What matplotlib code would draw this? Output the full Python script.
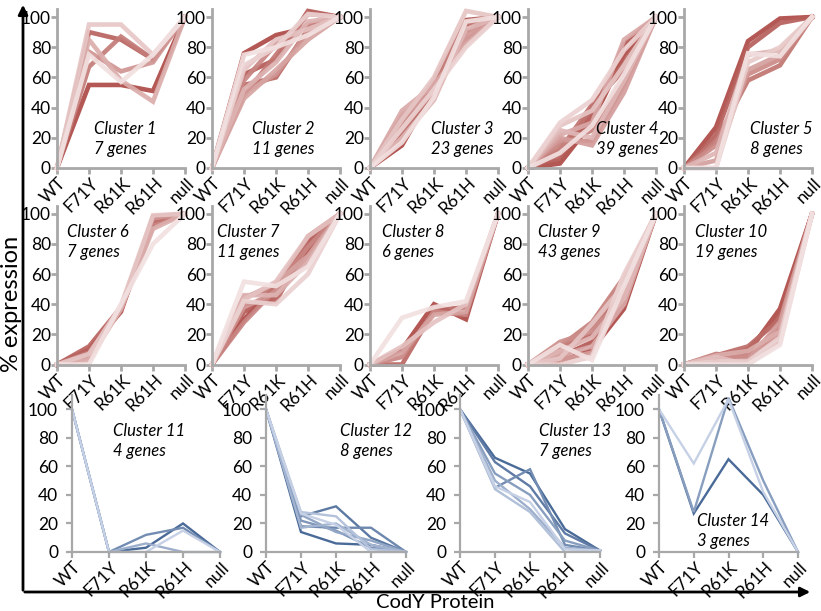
import matplotlib
matplotlib.use("Agg")
import matplotlib.pyplot as plt
import numpy as np
from matplotlib.colors import to_rgb
from matplotlib.transforms import offset_copy

plt.rcParams['font.family'] = ['Lato', 'DejaVu Sans']

conditions = ["WT", "F71Y", "R61K", "R61H", "null"]

# each cluster: list of gene profiles ordered dark -> light
c1 = [[0, 55, 55, 51, 100], [0, 90, 85, 72, 100], [0, 67, 87, 72, 100], [0, 77, 64, 70, 100],
      [0, 85, 58, 44, 100], [0, 95, 95, 75, 100], [0, 75, 57, 75, 100]]
c2 = [[0, 76, 88, 93, 100], [0, 62, 72, 104, 100], [0, 55, 60, 92, 100], [0, 48, 75, 102, 100],
      [0, 58, 82, 95, 100], [0, 50, 62, 90, 100], [0, 46, 65, 85, 100], [0, 52, 70, 97, 100],
      [0, 65, 85, 92, 100], [0, 68, 80, 102, 100], [0, 75, 80, 88, 100]]
c3 = [[0, 15, 52, 95, 100], [0, 18, 50, 98, 100], [0, 22, 55, 96, 100], [0, 25, 48, 90, 100],
      [0, 28, 58, 96, 100], [0, 30, 53, 85, 100], [0, 35, 50, 88, 100], [0, 38, 55, 82, 100],
      [0, 20, 45, 92, 100], [0, 32, 60, 104, 100], [0, 26, 52, 80, 100], [0, 17, 47, 97, 100]]
c4 = [[0, 3, 30, 75, 100], [0, 5, 35, 82, 100], [0, 8, 40, 70, 100], [0, 12, 42, 65, 100],
      [0, 15, 25, 60, 100], [0, 18, 18, 55, 100], [0, 20, 15, 50, 100], [0, 22, 30, 85, 100],
      [0, 25, 20, 58, 100], [0, 28, 38, 68, 100], [0, 30, 45, 78, 100], [0, 10, 28, 62, 100]]
c5 = [[0, 27, 84, 99, 100], [0, 22, 80, 96, 100], [0, 18, 58, 68, 100], [0, 15, 62, 72, 100],
      [0, 5, 65, 75, 100], [0, 10, 75, 78, 100], [0, 0, 70, 80, 100], [0, 0, 76, 74, 100]]
c6 = [[0, 10, 35, 98, 100], [0, 12, 38, 95, 100], [0, 8, 36, 92, 100], [0, 5, 38, 97, 100],
      [0, 3, 37, 90, 100], [0, 7, 39, 99, 100], [0, 0, 40, 80, 100]]
c7 = [[0, 30, 52, 75, 100], [0, 35, 45, 82, 100], [0, 40, 42, 80, 100], [0, 45, 50, 85, 100],
      [0, 28, 50, 78, 100], [0, 38, 48, 70, 100], [0, 44, 54, 72, 100], [0, 46, 46, 68, 100],
      [0, 43, 55, 85, 100], [0, 42, 40, 60, 100], [0, 55, 52, 65, 100]]
c8 = [[0, 10, 40, 30, 100], [0, 0, 36, 38, 100], [0, 5, 35, 33, 100], [0, 8, 33, 35, 100],
      [0, 12, 28, 40, 100], [0, 31, 38, 42, 100]]
c9 = [[0, 2, 10, 37, 100], [0, 5, 15, 42, 100], [0, 8, 20, 50, 100], [0, 10, 25, 55, 100],
      [0, 12, 28, 58, 100], [0, 15, 22, 45, 100], [0, 3, 8, 48, 100], [0, 6, 12, 40, 100],
      [0, 9, 18, 44, 100], [0, 4, 27, 53, 100], [0, 0, 5, 60, 100], [0, 13, 3, 52, 100]]
c10 = [[0, 2, 8, 37, 100], [0, 4, 10, 33, 100], [0, 6, 12, 30, 100], [0, 7, 5, 25, 100],
       [0, 3, 6, 20, 100], [0, 1, 3, 28, 100], [0, 6, 9, 22, 100], [0, 5, 0, 15, 100],
       [0, 2, 2, 18, 100], [0, 0, 0, 13, 100]]
c11 = [[100, 0, 3, 20, 0], [100, 0, 12, 17, 0], [100, 0, 6, 0, 0], [100, 0, 0, 15, 0]]
c12 = [[100, 14, 6, 5, 0], [100, 25, 32, 10, 0], [100, 18, 17, 17, 0], [100, 22, 15, 3, 0],
       [100, 26, 14, 8, 0], [100, 17, 20, 5, 0], [100, 28, 25, 2, 0], [100, 27, 19, 0, 0]]
c13 = [[100, 66, 55, 16, 1], [100, 63, 46, 13, 1], [100, 45, 58, 5, 1], [100, 55, 40, 8, 1],
       [100, 50, 30, 3, 1], [100, 44, 28, 0, 1], [100, 46, 35, 2, 1]]
c14 = [[100, 27, 65, 40, 0], [100, 28, 108, 50, 0], [100, 62, 107, 42, 0]]

clusters = [c1, c2, c3, c4, c5, c6, c7, c8, c9, c10, c11, c12, c13, c14]
cluster_names = ["Cluster %d" % i for i in range(1, 15)]
gene_counts = [7, 11, 23, 39, 8, 7, 11, 6, 43, 19, 4, 8, 7, 3]

W, H = 821, 611
fig = plt.figure(figsize=(W / 100, H / 100), dpi=100)

def ax_at(left, right, top, bottom):
    return fig.add_axes([left / W, 1 - bottom / H, (right - left) / W, (bottom - top) / H])

# pixel layout (left, right, top, bottom)
lefts_top = [57, 212, 370, 528, 684]
panels = []
for l in lefts_top:
    panels.append((l, l + 128, 8.7, 168))
for l in lefts_top:
    panels.append((l, l + 128, 205.5, 364.5))
for l, r in [(72, 220), (266, 406), (460, 600), (659, 798)]:
    panels.append((l, r, 395, 552))

# text block centre positions (data coords)
text_pos = [(1.16, 19), (1.25, 19), (1.9, 19), (2.13, 19), (2.06, 19),
            (0.31, 81), (0.16, 81), (0.37, 81), (0.31, 81), (0.34, 81),
            (1.12, 78), (2.11, 78), (2.26, 78), (1.08, 15)]

red_dark, red_light = np.array(to_rgb("#ad4a45")), np.array(to_rgb("#f2e0e0"))
blue_dark, blue_light = np.array(to_rgb("#4a6a98")), np.array(to_rgb("#c6d1e6"))
spine_col = "#a8a8a8"

for i, (data, pan) in enumerate(zip(clusters, panels)):
    ax = ax_at(*pan)
    bottom_row = i >= 10
    n = len(data)
    x = np.arange(len(conditions))
    for j, prof in enumerate(data):
        t = j / max(n - 1, 1)
        if bottom_row:
            col = blue_dark * (1 - t) + blue_light * t
            ax.plot(x, prof, color=col, lw=1.7, solid_joinstyle='miter', clip_on=False)
        else:
            col = red_dark * (1 - t) + red_light * t
            ax.plot(x, prof, color=col, lw=3.3, alpha=0.92, solid_joinstyle='miter', clip_on=False)
    ax.set_xlim(0, 4)
    ax.set_ylim(0, 110 if bottom_row else 105.5)
    for s in ['top', 'right']:
        ax.spines[s].set_visible(False)
    lw_sp = 1.6 if bottom_row else 2.0
    for s in ['left', 'bottom']:
        ax.spines[s].set_color(spine_col)
        ax.spines[s].set_linewidth(lw_sp)
    ax.tick_params(axis='both', colors=spine_col, width=lw_sp, length=4, labelcolor='black', labelsize=12.5)
    ax.tick_params(axis='y', pad=6 if bottom_row else 0.5)
    ax.set_yticks([0, 20, 40, 60, 80, 100])
    ax.set_xticks(x)
    ax.tick_params(axis='x', labelbottom=False)
    # rotated category labels, anchored at their tick
    trans = offset_copy(ax.get_xaxis_transform(), fig=fig, x=1, y=-7, units='dots')
    for xi, lab in zip(x, conditions):
        ax.text(xi, 0, lab, transform=trans, rotation=45, rotation_mode='anchor',
                ha='right', va='top', fontsize=12.5)
    ax.patch.set_visible(False)
    tx, ty = text_pos[i]
    ax.text(tx, ty, cluster_names[i] + "\n" + "%d genes" % gene_counts[i], style='italic',
            fontsize=12, ha='left', va='center', linespacing=1.3)

# big arrows
fig.add_artist(matplotlib.patches.FancyArrowPatch((23 / W, 1 - 593 / H), (23 / W, 1 - 2 / H),
               transform=fig.transFigure, arrowstyle='-|>', mutation_scale=14, lw=2.0, color='black'))
fig.add_artist(matplotlib.patches.FancyArrowPatch((22 / W, 1 - 592 / H), (813 / W, 1 - 592 / H),
               transform=fig.transFigure, arrowstyle='-|>', mutation_scale=14, lw=2.0, color='black'))

fig.text(11 / W, 1 - 304 / H, "% expression", rotation=90, ha='center', va='center', fontsize=17)
fig.text(435 / W, 1 - 603 / H, "CodY Protein", ha='center', va='center', fontsize=14.5)

fig.savefig("out.png", dpi=100)
